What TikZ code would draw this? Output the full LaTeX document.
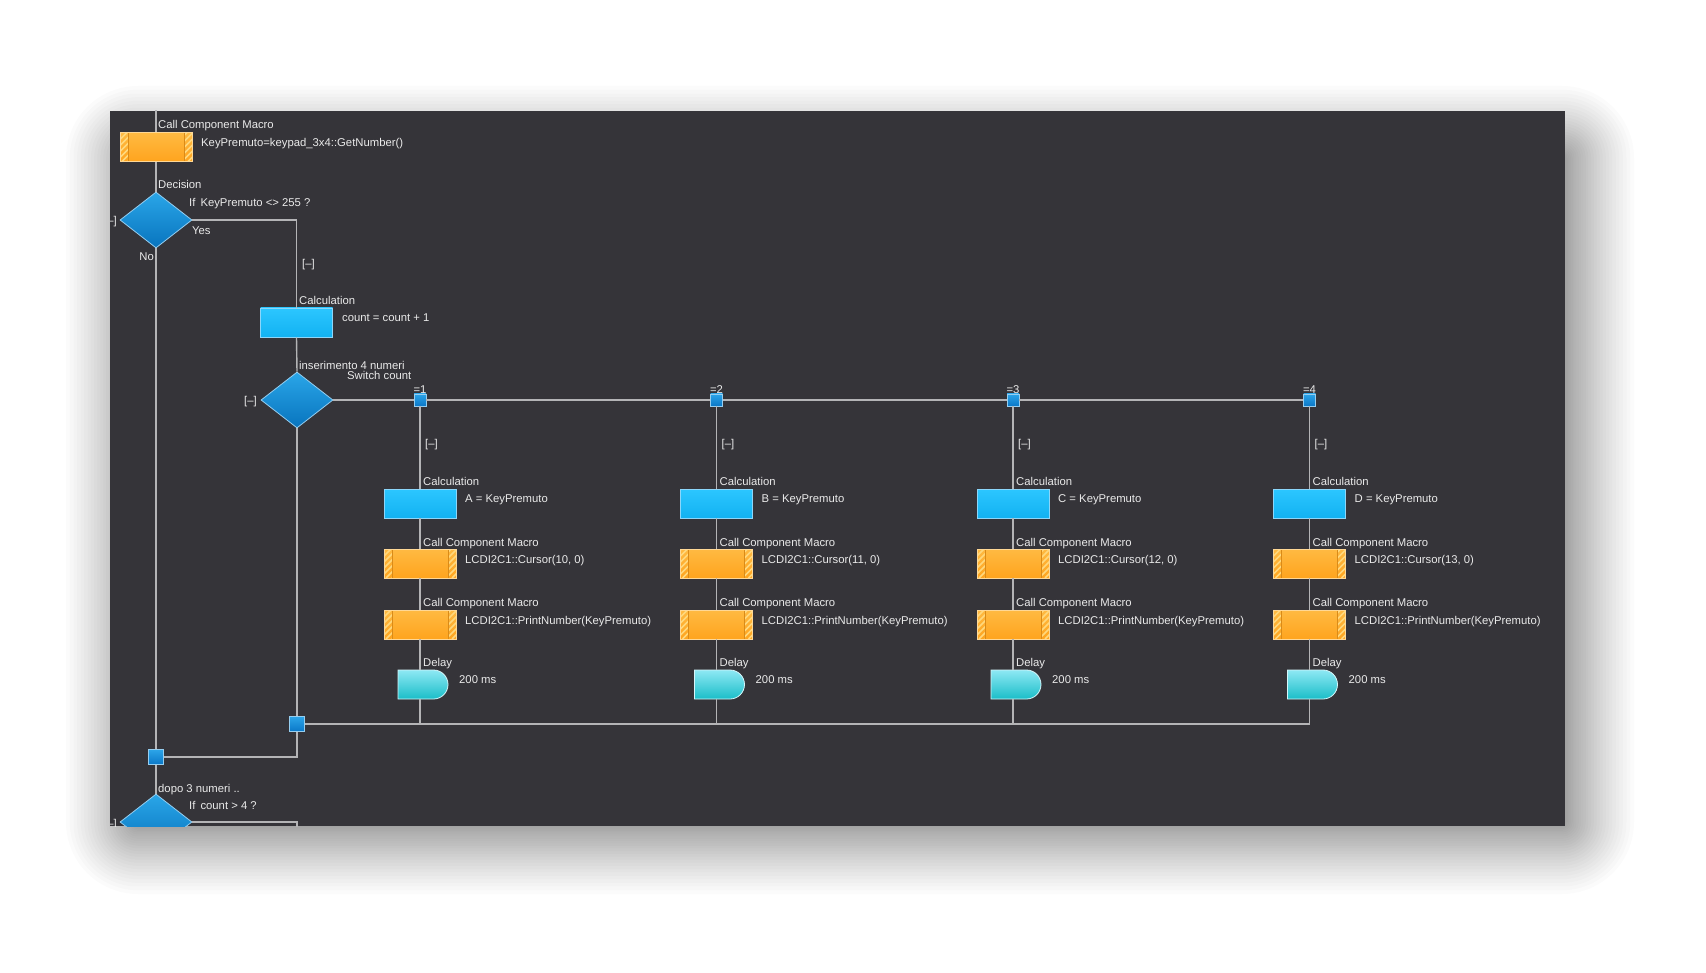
\documentclass[tikz,border=0pt]{standalone}
\usepackage{fontspec}
\setmainfont{Liberation Sans}
\usetikzlibrary{shapes.geometric,shapes.misc}
\definecolor{panel}{RGB}{53,52,57}
\definecolor{linecol}{RGB}{180,180,182}
\definecolor{txt}{RGB}{234,234,234}
\definecolor{otop}{RGB}{255,186,66}
\definecolor{obot}{RGB}{255,164,30}
\definecolor{oedge}{RGB}{255,216,150}
\definecolor{ostripe}{RGB}{255,216,124}
\definecolor{ctop}{RGB}{44,198,255}
\definecolor{cbot}{RGB}{18,178,242}
\definecolor{cedge}{RGB}{140,214,250}
\definecolor{dtop}{RGB}{42,166,232}
\definecolor{dbot}{RGB}{8,116,190}
\definecolor{dedge}{RGB}{150,206,240}
\definecolor{ltop}{RGB}{142,232,244}
\definecolor{lbot}{RGB}{26,190,200}
\definecolor{ledge}{RGB}{214,246,250}
\definecolor{stop}{RGB}{44,164,232}
\definecolor{sbot}{RGB}{10,120,200}
\begin{document}
\begin{tikzpicture}[x=1pt,y=-1pt,
  font=\fontsize{11.3}{13}\selectfont,
  lbl/.style={anchor=base west, inner sep=0pt, text=txt},
  wire/.style={draw=linecol, line width=1.4pt},
  callbox/.style={rectangle, inner sep=0pt, minimum width=72, minimum height=29,
    draw=oedge, line width=0.8pt, top color=otop, bottom color=obot,
    path picture={
      \foreach \e/\d in {west/8pt, east/-8pt}{
        \begin{scope}
          \clip (path picture bounding box.north \e) rectangle ([xshift=\d]path picture bounding box.south \e);
          \foreach \s in {-46,-40,...,20}
            \draw[ostripe, line width=1.7pt] ([xshift=\s pt]path picture bounding box.south \e) -- ++(40pt,40pt);
        \end{scope}
        \draw[obot!85!black, line width=0.6pt] ([xshift=\d]path picture bounding box.north \e) -- ([xshift=\d]path picture bounding box.south \e);
      }
    }},
  calcbox/.style={rectangle, inner sep=0pt, minimum width=72, minimum height=29,
    draw=cedge, line width=0.8pt, top color=ctop, bottom color=cbot},
  dia/.style={diamond, inner sep=0pt, minimum width=72, minimum height=56,
    draw=dedge, line width=0.8pt, top color=dtop, bottom color=dbot},
  delaybox/.style={rounded rectangle, rounded rectangle west arc=none, inner sep=0pt,
    minimum width=50, minimum height=29, draw=ledge, line width=0.8pt,
    top color=ltop, bottom color=lbot},
  sq/.style={rectangle, inner sep=0pt, minimum size=12, draw=dedge, line width=0.7pt,
    top color=stop, bottom color=sbot}
]
\useasboundingbox (0,0) rectangle (1706,973);
\fill[white] (0,0) rectangle (1706,973);
% soft shadow of the panel
\foreach \i in {1,...,30}{
  \pgfmathsetmacro\dd{72*(\i/30)^1.6}
  \fill[black, opacity=0.016, rounded corners=\dd pt] (138-\dd,158-\dd) rectangle (1562+\dd,822+\dd);
}
\fill[panel] (110,111) rectangle (1565,826);
\begin{scope}
\clip (110,111) rectangle (1565,826);
% main column
\coordinate (top) at (156,100);
\node[callbox] (cb0) at (156,147) {};
\node[lbl] (tcb0) at (158,129) {Call Component Macro};
\node[lbl] (vcb0) at (201,147) {KeyPremuto=keypad\_3x4::GetNumber()};
\node[dia] (dec1) at (156,220) {};
\node[lbl] (tdec1) at (158,189) {Decision};
\node[lbl] (vdec1) at (189,207) {If\, KeyPremuto <> 255 ?};
\node[lbl] (yes1) at (192,235) {Yes};
\node[lbl, anchor=base east] (no1) at (154,261) {No};
\node[lbl, anchor=base east] (col1) at (117,225) {[–]};
\node[lbl] (col2) at (302,268) {[–]};
\node[calcbox] (calc0) at (296.5,322.5) {};
\node[lbl] (tcalc0) at (299,305) {Calculation};
\node[lbl] (vcalc0) at (342,322) {count = count + 1};
\node[dia] (sw) at (297,400) {};
\node[lbl] (tsw) at (299,370) {inserimento 4 numeri};
\node[lbl] (vsw) at (347,380) {Switch count};
\node[lbl, anchor=base east] (col3) at (257,405) {[–]};
\node[sq, minimum size=15] (m1) at (297,724) {};
\node[sq, minimum size=15] (m2) at (156,757) {};
\node[dia] (dec2) at (156,822) {};
\node[lbl] (tdec2) at (158,792) {dopo 3 numeri ..};
\node[lbl] (vdec2) at (189,809) {If\, count > 4 ?};
\node[lbl, anchor=base east] (col4) at (117,827) {[–]};
\coordinate (c2) at (297,860);
% connectors of main column
\draw[wire] (top) -- (cb0.north);
\draw[wire] (cb0.south) -- (dec1.north);
\draw[wire] (dec1.south) -- (m2.north);
\draw[wire] (m2.south) -- (dec2.north);
\draw[wire] (dec1.east) -| (calc0.north);
\draw[wire] (calc0.south) -- (sw.north);
\draw[wire] (sw.south) -- (m1.north);
\draw[wire] (m1.south) |- (m2.east);
\draw[wire] (dec2.east) -| (c2);
% branches
\foreach \k/\bx/\v/\c in {1/420/A/10, 2/716.5/B/11, 3/1013/C/12, 4/1309.5/D/13}{
  \node[sq] (b\k) at (\bx,400) {};
  \node[lbl, anchor=base] (eq\k) at (\bx,394) {=\k};
  \node[lbl] (col\k b) at (\bx+5,448) {[–]};
  \node[calcbox] (ca\k) at (\bx,503.5) {};
  \node[lbl] (tca\k) at (\bx+3,485.5) {Calculation};
  \node[lbl] (vca\k) at (\bx+45,502.5) {\v\ = KeyPremuto};
  \node[callbox] (cu\k) at (\bx,563.5) {};
  \node[lbl] (tcu\k) at (\bx+3,546) {Call Component Macro};
  \node[lbl] (vcu\k) at (\bx+45,563) {LCDI2C1::Cursor(\c, 0)};
  \node[callbox] (pn\k) at (\bx,624.5) {};
  \node[lbl] (tpn\k) at (\bx+3,606.5) {Call Component Macro};
  \node[lbl] (vpn\k) at (\bx+45,624) {LCDI2C1::PrintNumber(KeyPremuto)};
  \node[delaybox] (dl\k) at (\bx+3,684.5) {};
  \node[lbl] (tdl\k) at (\bx+3,666.5) {Delay};
  \node[lbl] (vdl\k) at (\bx+39,683) {200 ms};
  \coordinate (j\k) at (\bx,724);
  \draw[wire] (b\k.south) -- (ca\k.north);
  \draw[wire] (ca\k.south) -- (cu\k.north);
  \draw[wire] (cu\k.south) -- (pn\k.north);
  \draw[wire] (pn\k.south) -- (pn\k.south |- dl\k.north);
  \draw[wire] (pn\k.south |- dl\k.south) -- (j\k);
}
\draw[wire] (sw.east) -- (b1.west);
\draw[wire] (b1.east) -- (b2.west);
\draw[wire] (b2.east) -- (b3.west);
\draw[wire] (b3.east) -- (b4.west);
\draw[wire] (m1.east) -- (j4);
\end{scope}
\end{tikzpicture}
\end{document}
